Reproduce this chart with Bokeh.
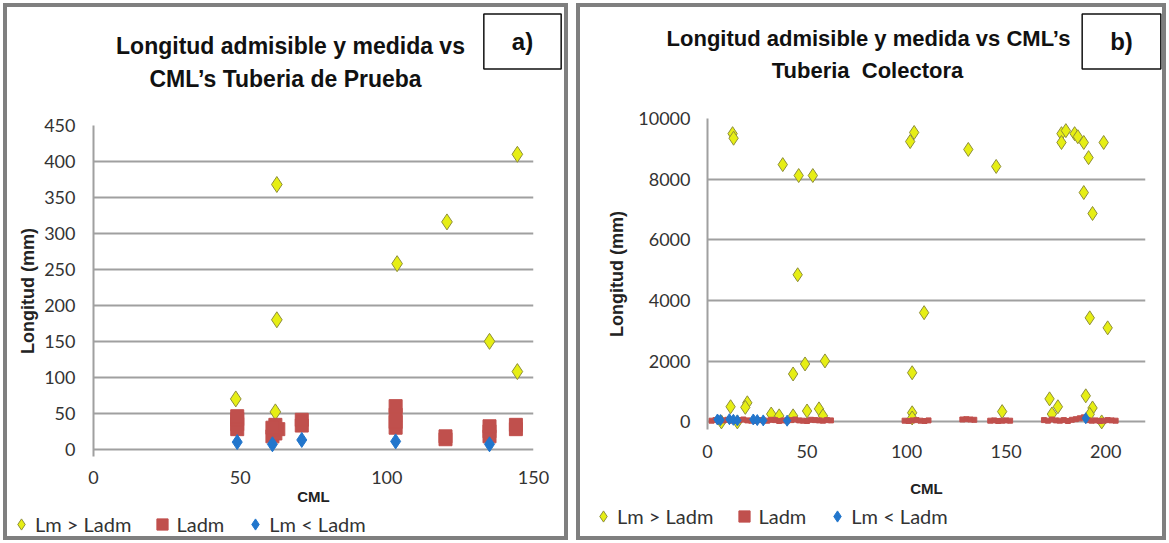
from bokeh.plotting import figure
from bokeh.models import Range1d, FixedTicker, Label, Legend, LegendItem, Spacer
from bokeh.layouts import row, column
from bokeh.embed import file_html
from bokeh.resources import INLINE

# ---------------- Panel a) data ----------------
a_xticks = [0, 50, 100, 150]
a_yticks = [0, 50, 100, 150, 200, 250, 300, 350, 400, 450]
a_gt_x = [48.5, 62.5, 62.5, 62.0, 103.5, 120.5, 135.0, 144.5, 144.5]
a_gt_y = [70, 368, 180, 52, 258, 316, 150, 410, 108]
a_adm_x = [49, 49, 49, 49, 61, 62, 63, 62, 61, 71, 71, 103, 103, 103, 103,
           120, 120, 135, 135, 135, 144, 144]
a_adm_y = [28, 35, 42, 46, 18, 22, 28, 34, 30, 33, 41, 30, 38, 48, 60,
           14, 18, 18, 25, 32, 28, 34]
a_lt_x = [49, 61, 71, 103, 135]
a_lt_y = [10, 7, 13, 11, 7]

# ---------------- Panel b) data ----------------
b_xticks = [0, 50, 100, 150, 200]
b_yticks = [0, 2000, 4000, 6000, 8000, 10000]
b_gt_x = [12.6, 13.1, 37.8, 45.8, 52.9, 45.3, 43.0, 49.0, 59.0,
          101.8, 103.8, 131.0, 145.0,
          177.8, 177.8, 180.0, 184.4, 186.0, 189.0, 191.4, 199.0, 189.0, 193.4,
          108.8, 192.0, 201.0, 102.8,
          11.6, 20.0, 19.0, 32.0, 36.0, 43.0, 50.0, 56.0, 58.0,
          102.8, 102.8, 148.0, 171.8, 176.0, 173.0, 190.0, 193.4, 192.0, 198.0,
          7.0, 15.0]
b_gt_y = [9500, 9350, 8480, 8120, 8120, 4850, 1580, 1910, 2010,
          9240, 9540, 8980, 8420,
          9500, 9210, 9600, 9500, 9400, 9210, 8710, 9210, 7560, 6870,
          3600, 3430, 3100, 1620,
          500, 630, 480, 260, 200, 200, 360, 430, 200,
          300, 130, 340, 760, 500, 260, 860, 460, 250, 0,
          0, 0]
b_adm_x = [2, 4, 6, 8, 10, 12, 14, 16, 18, 20, 22, 24, 26, 28, 30, 32, 34, 36, 38, 40,
           42, 44, 46, 48, 50, 52, 54, 56, 58, 60, 62,
           99, 101, 103, 105, 107, 109, 111,
           128, 130, 132, 134,
           142, 144, 146, 148, 150, 152,
           169, 171, 173, 175, 177, 179, 181, 183, 185, 187, 189, 191, 193, 195, 197,
           199, 201, 203, 205]
b_adm_y = [40, 60, 30, 50, 70, 40, 30, 60, 80, 50, 40, 30, 60, 50, 40, 70, 60, 30, 50, 40,
           60, 80, 50, 40, 30, 70, 60, 50, 40, 60, 50,
           40, 30, 50, 60, 40, 30, 50,
           80, 90, 80, 70,
           40, 50, 30, 40, 50, 40,
           60, 40, 80, 50, 40, 60, 30, 70, 90, 120, 150, 60, 40, 50, 30,
           40, 60, 50, 40]
b_lt_x = [5, 6.5, 11, 13, 15, 23, 25, 28, 40, 190]
b_lt_y = [80, 60, 90, 70, 50, 80, 60, 50, 40, 120]

series_names = ["Lm > Ladm", "Ladm", "Lm < Ladm"]
title_a = ["Longitud admisible y medida vs", "CML\u2019s Tuberia de Prueba"]
title_b = ["Longitud admisible y medida vs CML\u2019s", "Tuberia\u00a0 Colectora"]

YEL_FILL = "#E6EE14"
YEL_LINE = "#8E8E3A"
RED = "#C0504D"
BLUE = "#2276CC"
GRID = "#A0A0A0"
TXT = "#333333"
BC = "4px solid #7F7F7F"
HEAD_H = 100


def blank(width, height, xr, yr, borders):
    f = figure(width=width, height=height, x_range=xr, y_range=yr,
               output_backend="svg", toolbar_location=None, min_border=0,
               x_axis_location=None, y_axis_location=None, frame_align=False,
               styles={b: BC for b in borders})
    f.grid.visible = False
    f.outline_line_color = None
    f.border_fill_color = "white"
    f.background_fill_color = "white"
    return f


def header(width, lines, line_pos, fsize, box_text, box_pos):
    h = blank(width, HEAD_H, Range1d(0, width), Range1d(HEAD_H, 0),
              ["border-top", "border-left", "border-right"])
    for t, (x, y) in zip(lines, line_pos):
        h.add_layout(Label(x=x, y=y, text=t, text_align="center", text_baseline="middle",
                           text_font="Liberation Sans", text_font_style="bold",
                           text_font_size=fsize, text_color="#111111"))
    h.add_layout(Label(x=box_pos[0], y=box_pos[1], text=box_text, text_align="center",
                       text_baseline="middle", text_font="Liberation Sans",
                       text_font_style="bold", text_font_size="24px", text_color="#111111",
                       border_line_color="#111111", border_line_width=1.5,
                       background_fill_color="white", padding=(28, 14)))
    return h


def add_series(p, gx, gy, ax_, ay, lx, ly, ysz, rsz, bsz):
    r1 = p.scatter(gx, gy, marker="diamond", size=ysz, fill_color=YEL_FILL,
                   line_color=YEL_LINE, line_width=1)
    r2 = p.scatter(ax_, ay, marker="square", size=rsz, fill_color=RED,
                   line_color=RED, line_width=1)
    r3 = p.scatter(lx, ly, marker="diamond", size=bsz, fill_color=BLUE,
                   line_color=BLUE, line_width=1)
    return [r1, r2, r3]


def footer(width, height, loc, data):
    # the footer's ranges lie away from the data, so only the legend shows here
    f = blank(width, height, Range1d(-2, -1), Range1d(-2, -1),
              ["border-bottom", "border-left", "border-right"])
    rends = add_series(f, *data, 10, 10, 10)
    leg = Legend(items=[LegendItem(label=n, renderers=[r]) for n, r in zip(series_names, rends)],
                 orientation="horizontal", location=loc, border_line_color=None,
                 background_fill_alpha=0, padding=0, margin=0, spacing=17,
                 label_standoff=0, glyph_width=28, glyph_height=28,
                 label_text_font="Lato", label_text_font_size="20px",
                 label_text_color=TXT, label_height=28)
    f.add_layout(leg, "center")
    return f


def panel(width, height, xr, yr, xticks, yticks, mbl, mbr, mbt, mbb,
          ylab_standoff, yaxis_label_standoff, xlab_standoff, xaxis_label_standoff):
    p = figure(width=width, height=height, x_range=Range1d(*xr), y_range=Range1d(*yr),
               output_backend="svg", toolbar_location=None, frame_align=False,
               min_border_left=mbl, min_border_right=mbr, min_border_top=mbt,
               min_border_bottom=mbb,
               styles={"border-left": BC, "border-right": BC})
    p.outline_line_color = None
    p.background_fill_color = "white"
    p.border_fill_color = "white"
    p.xgrid.visible = False
    p.ygrid.grid_line_color = GRID
    p.ygrid.grid_line_width = 2
    p.xaxis.ticker = FixedTicker(ticks=xticks)
    p.yaxis.ticker = FixedTicker(ticks=yticks)
    for ax in (p.xaxis[0], p.yaxis[0]):
        ax.major_tick_line_color = None
        ax.minor_tick_line_color = None
        ax.major_tick_out = 0
        ax.major_tick_in = 0
        ax.major_label_text_font = "Lato"
        ax.major_label_text_font_size = "18px"
        ax.major_label_text_color = TXT
        ax.axis_label_text_font = "Liberation Sans"
        ax.axis_label_text_font_style = "bold"
        ax.axis_label_text_color = "#222222"
    p.yaxis.axis_label_text_font_size = "18px"
    p.xaxis.axis_label_text_font_size = "15px"
    p.xaxis.axis_line_color = None
    p.yaxis.axis_line_color = GRID
    p.yaxis.axis_line_width = 2
    p.yaxis.major_label_standoff = ylab_standoff
    p.yaxis.axis_label_standoff = yaxis_label_standoff
    p.xaxis.major_label_standoff = xlab_standoff
    p.xaxis.axis_label_standoff = xaxis_label_standoff
    p.yaxis.axis_label = "Longitud (mm)"
    p.xaxis.axis_label = "CML"
    return p


data_a = (a_gt_x, a_gt_y, a_adm_x, a_adm_y, a_lt_x, a_lt_y)
data_b = (b_gt_x, b_gt_y, b_adm_x, b_adm_y, b_lt_x, b_lt_y)

# ---- panel a ----
ha = header(565, title_a, [(283, 38), (278, 71)], "23px", "a)", (515, 34))
pa = panel(565, 407, (0, 150), (-10, 450), a_xticks, a_yticks,
           86, 39, 22, 54, 18, 3, 14, 1)
add_series(pa, *data_a, 16, 13, 15)
fa = footer(565, 30, (0, 2), data_a)

# ---- panel b ----
hb = header(590, title_b, [(288, 31), (287, 63)], "22px", "b)", (541, 34))
pb = panel(590, 399, (0, 220), (-250, 10000), b_xticks, b_yticks,
           127, 25, 15, 73, 17, 8, 15, 19)
add_series(pb, *data_b, 14, 5, 11)
fb = footer(590, 38, (9, 10), data_b)

layout = column(Spacer(height=3),
                row(Spacer(width=3), column(ha, pa, fa), Spacer(width=8), column(hb, pb, fb)))
open("out.html", "w").write(file_html(layout, INLINE))
